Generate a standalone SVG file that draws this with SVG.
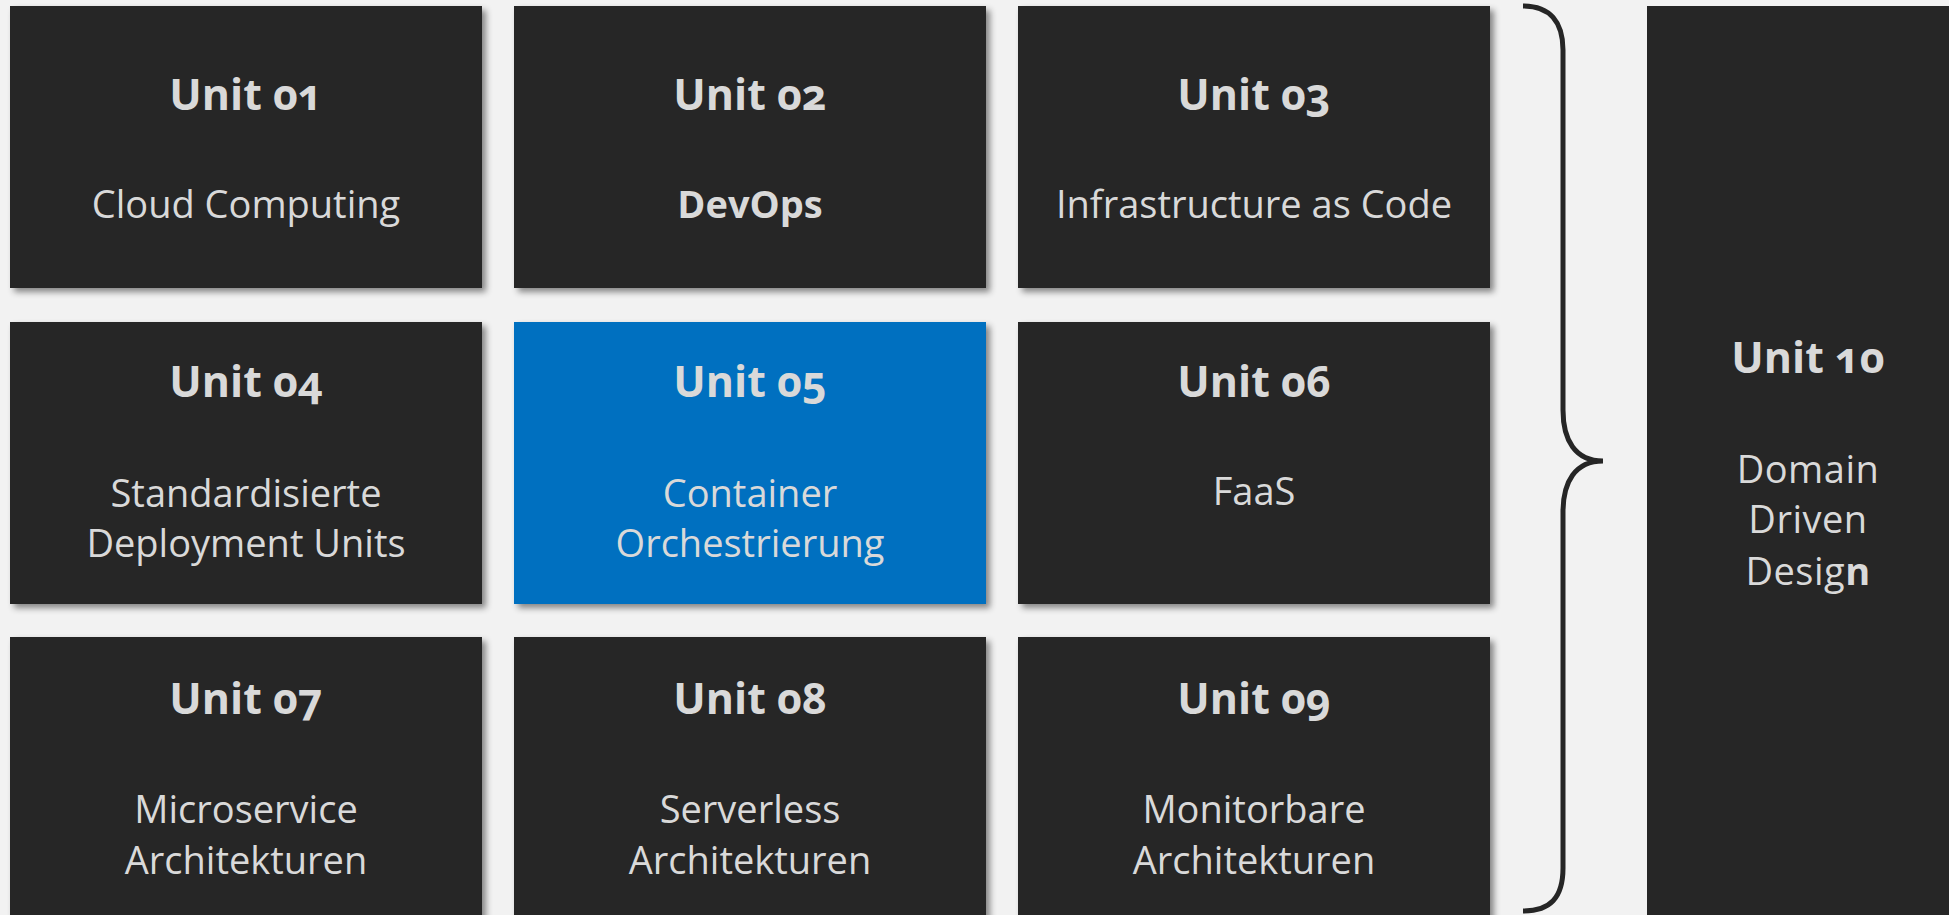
<svg xmlns="http://www.w3.org/2000/svg" width="1949" height="915" viewBox="0 0 1949 915">
<defs>
<filter id="sh" x="-5%" y="-5%" width="115%" height="115%">
<feDropShadow dx="4" dy="4" stdDeviation="3" flood-color="#000" flood-opacity="0.45"/>
</filter>
</defs>
<style>
.box{fill:#262626;filter:url(#sh)}
.blue{fill:#0070c0;filter:url(#sh)}
.t{font-family:"Open Sans","Liberation Sans",sans-serif;font-weight:700;font-size:43px;fill:#d9d9d9;text-anchor:middle;font-variant-numeric:oldstyle-nums}
.s{font-family:"Open Sans","Liberation Sans",sans-serif;font-weight:400;font-size:38px;fill:#d9d9d9;text-anchor:middle}
.b{font-weight:700}
</style>
<rect width="1949" height="915" fill="#f2f2f2"/>
<g id="unit01"><rect class="box" x="10" y="6" width="472" height="282"/><text class="t" x="246" y="110">Unit 01</text><text class="s" x="246" y="218">Cloud Computing</text></g>
<g id="unit02"><rect class="box" x="514" y="6" width="472" height="282"/><text class="t" x="750" y="110">Unit 02</text><text class="s b" x="750" y="218">DevOps</text></g>
<g id="unit03"><rect class="box" x="1018" y="6" width="472" height="282"/><text class="t" x="1254" y="110">Unit 03</text><text class="s" x="1254" y="218">Infrastructure as Code</text></g>
<g id="unit04"><rect class="box" x="10" y="322" width="472" height="282"/><text class="t" x="246" y="397">Unit 04</text><text class="s" x="246" y="507">Standardisierte</text><text class="s" x="246" y="557">Deployment Units</text></g>
<g id="unit05"><rect class="blue" x="514" y="322" width="472" height="282"/><text class="t" x="750" y="397">Unit 05</text><text class="s" x="750" y="507">Container</text><text class="s" x="750" y="557">Orchestrierung</text></g>
<g id="unit06"><rect class="box" x="1018" y="322" width="472" height="282"/><text class="t" x="1254" y="397">Unit 06</text><text class="s" x="1254" y="505">FaaS</text></g>
<g id="unit07"><rect class="box" x="10" y="637" width="472" height="282"/><text class="t" x="246" y="714">Unit 07</text><text class="s" x="246" y="823">Microservice</text><text class="s" x="246" y="874">Architekturen</text></g>
<g id="unit08"><rect class="box" x="514" y="637" width="472" height="282"/><text class="t" x="750" y="714">Unit 08</text><text class="s" x="750" y="823">Serverless</text><text class="s" x="750" y="874">Architekturen</text></g>
<g id="unit09"><rect class="box" x="1018" y="637" width="472" height="282"/><text class="t" x="1254" y="714">Unit 09</text><text class="s" x="1254" y="823">Monitorbare</text><text class="s" x="1254" y="874">Architekturen</text></g>
<g id="unit10"><rect fill="#262626" x="1647" y="6" width="310" height="915"/><text class="t" x="1808" y="373">Unit 10</text><text class="s" x="1808" y="483" letter-spacing="0.5">Domain</text><text class="s" x="1808" y="533" letter-spacing="0.5">Driven</text><text class="s" x="1808" y="585" letter-spacing="0.5">Desig<tspan class="b">n</tspan></text></g>
<g id="connectors"><path d="M1523,6 C1550,6 1563,22 1563,50 L1563,410 C1563,440 1575,461 1603,461 C1575,461 1563,482 1563,512 L1563,868 C1563,898 1550,911 1523,911" fill="none" stroke="#262626" stroke-width="5"/></g>
</svg>
